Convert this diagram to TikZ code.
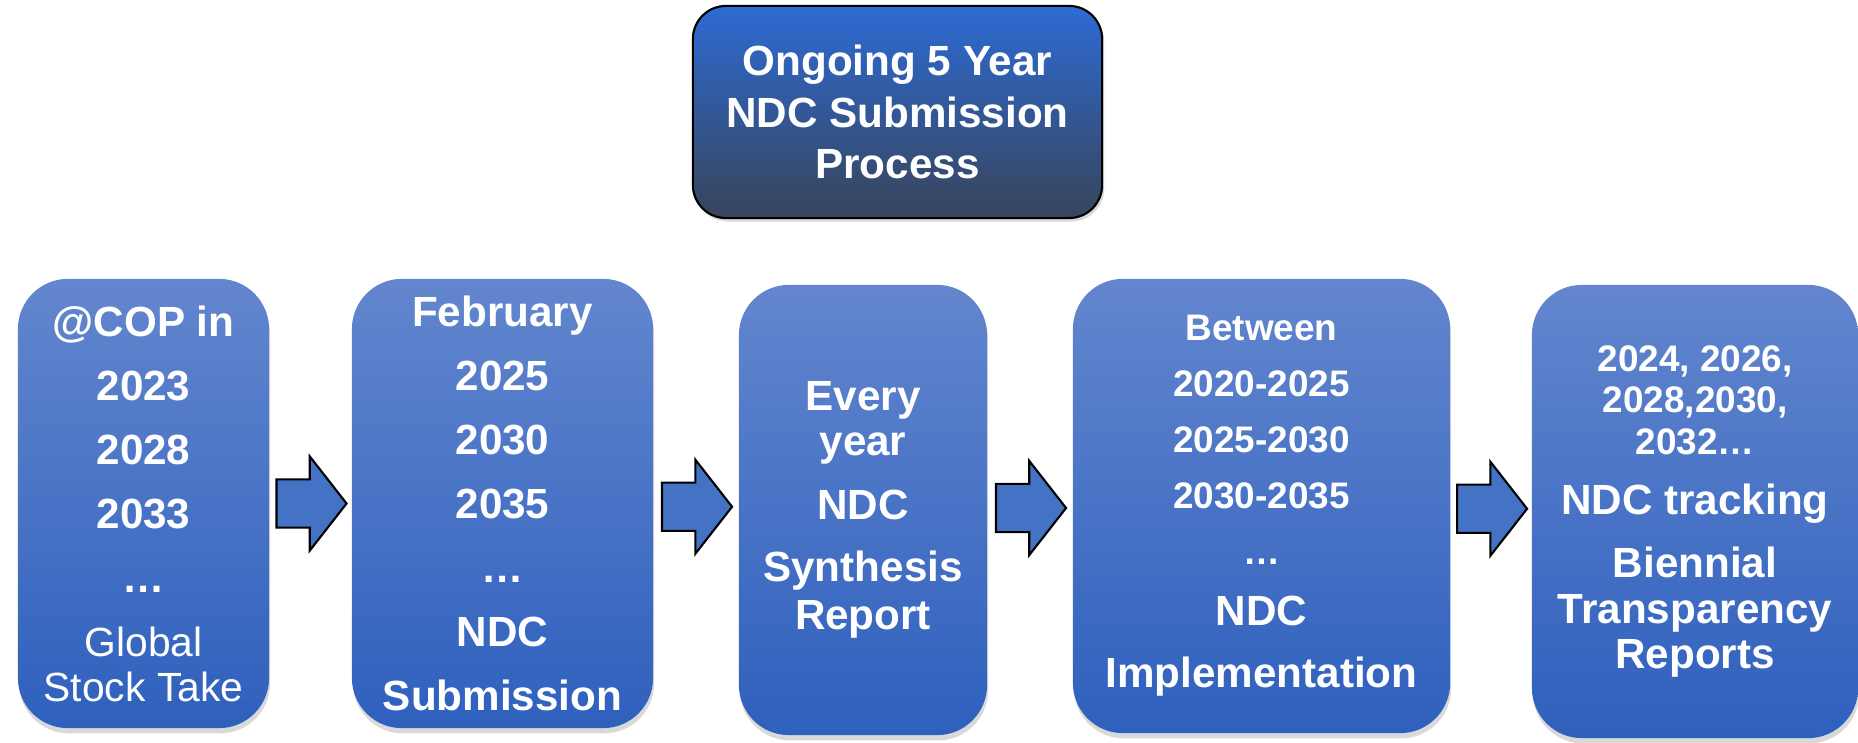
\documentclass[tikz,border=0pt]{standalone}
\usepackage{fontspec}
\setmainfont{Liberation Sans}
\usetikzlibrary{calc,shapes.arrows,shadows}

\definecolor{boxtop}{RGB}{99,134,206}
\definecolor{boxbottom}{RGB}{46,96,189}
\definecolor{headtop}{RGB}{45,107,212}
\definecolor{headbottom}{RGB}{56,68,90}
\definecolor{arrowblue}{RGB}{68,114,196}

\newcommand{\lgtext}[1]{{\fontsize{12}{14}\selectfont #1}}
\newcommand{\regtext}[1]{{\mdseries\fontsize{11.6}{14}\selectfont #1}}

\tikzset{
  stage/.style={rectangle, rounded corners=0.5cm, top color=boxtop, bottom color=boxbottom,
    text=white, align=center, inner sep=0pt,
    font=\bfseries\fontsize{12}{18.2}\selectfont,
    drop shadow={shadow xshift=0.3pt, shadow yshift=-1.5pt, opacity=0.3}},
  headbox/.style={rectangle, rounded corners=0.33cm, draw=black, line width=0.6pt,
    top color=headtop, bottom color=headbottom, text=white, align=center, inner sep=0pt,
    font=\bfseries\fontsize{12}{14.65}\selectfont,
    drop shadow={shadow xshift=0.6pt, shadow yshift=-1pt, opacity=0.3}},
  fwdarrow/.style={single arrow, draw=black, fill=arrowblue, line width=0.6pt,
    inner xsep=0pt, inner ysep=0.23cm, minimum height=0.7cm,
    single arrow head extend=0.23cm, single arrow tip angle=104,
    anchor=tail, xshift=-0.35cm}
}

\begin{document}
\begin{tikzpicture}[x=0.01cm,y=0.01cm]
  % page frame, same size as the slide
  \useasboundingbox (0,0) rectangle (1858,-743);

  % title box on top
  \node[headbox, minimum width=4.09cm, minimum height=2.12cm] (head) at (897.5,-112)
    {Ongoing 5 Year\\NDC Submission\\Process};

  % the five stages, left to right
  \node[stage, minimum width=2.51cm, minimum height=4.49cm] (gst) at (143.5,-503.5)
    {@COP in\\2023\\2028\\2033\\…\\\regtext{Global}\\[-5.4pt]\regtext{Stock Take}};
  \node[stage, minimum width=3.01cm, minimum height=4.49cm] (sub) at (502.5,-503.5)
    {February\\2025\\2030\\2035\\…\\NDC\\Submission};
  \node[stage, minimum width=2.48cm, minimum height=4.5cm] (syn) at (863,-510)
    {Every\\[-5.4pt]year\\NDC\\[-0.6pt]Synthesis\\[-4.5pt]Report};
  \node[stage, minimum width=3.77cm, minimum height=4.54cm, font=\bfseries\fontsize{10.5}{15.9}\selectfont]
    (impl) at (1261.5,-506)
    {Between\\2020-2025\\2025-2030\\2030-2035\\…\\[1.5pt]\lgtext{NDC}\\[1.7pt]\lgtext{Implementation}};
  \node[stage, minimum width=3.26cm, minimum height=4.53cm, font=\bfseries\fontsize{10.5}{11.7}\selectfont]
    (track) at (1695,-511.5)
    {2024, 2026,\\2028,2030,\\2032…\\[5.4pt]\lgtext{NDC tracking}\\[6.2pt]\lgtext{Biennial}\\[1.4pt]\lgtext{Transparency}\\[1.1pt]\lgtext{Reports}};

  % block arrows in the gaps
  \node[fwdarrow] (a1) at ($(gst.east)!0.5!(sub.west)$) {};
  \node[fwdarrow] (a2) at ($(sub.east)!0.5!(syn.west)$) {};
  \node[fwdarrow] (a3) at ($(syn.east)!0.5!(impl.west)$) {};
  \node[fwdarrow] (a4) at ($(impl.east)!0.5!(track.west)$) {};
\end{tikzpicture}
\end{document}
